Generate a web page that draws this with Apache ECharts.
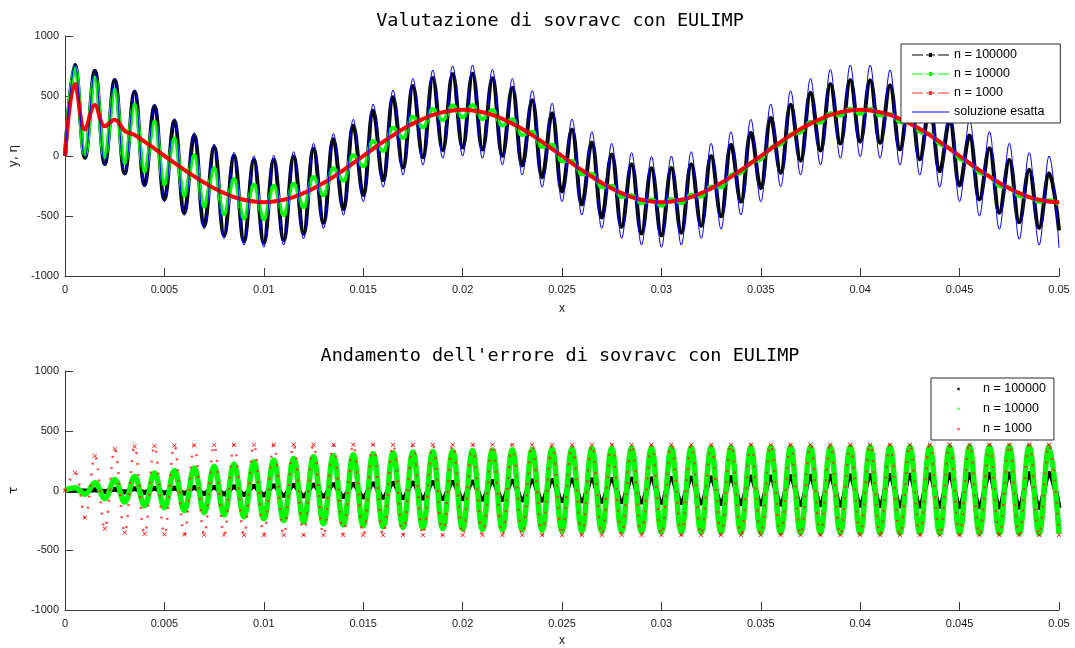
<!DOCTYPE html>
<html>
<head>
<meta charset="utf-8">
<script src="https://cdn.jsdelivr.net/npm/echarts@6/dist/echarts.min.js"></script>
<style>
  html, body { margin: 0; padding: 0; background: #fff; }
  #chart { width: 1075px; height: 648px; }
</style>
</head>
<body>
<div id="chart"></div>
<script>
// Sample abscissae: every half millisecond (crests and troughs of the fast oscillation)
const xs = [0,0.0005,0.001,0.0015,0.002,0.0025,0.003,0.0035,0.004,0.0045,0.005,0.0055,0.006,0.0065,0.007,0.0075,0.008,0.0085,0.009,0.0095,
  0.01,0.0105,0.011,0.0115,0.012,0.0125,0.013,0.0135,0.014,0.0145,0.015,0.0155,0.016,0.0165,0.017,0.0175,0.018,0.0185,0.019,0.0195,
  0.02,0.0205,0.021,0.0215,0.022,0.0225,0.023,0.0235,0.024,0.0245,0.025,0.0255,0.026,0.0265,0.027,0.0275,0.028,0.0285,0.029,0.0295,
  0.03,0.0305,0.031,0.0315,0.032,0.0325,0.033,0.0335,0.034,0.0345,0.035,0.0355,0.036,0.0365,0.037,0.0375,0.038,0.0385,0.039,0.0395,
  0.04,0.0405,0.041,0.0415,0.042,0.0425,0.043,0.0435,0.044,0.0445,0.045,0.0455,0.046,0.0465,0.047,0.0475,0.048,0.0485,0.049,0.0495,0.05];

// Exact solution
const esatta = [0,760,-19,717,-75,644,-158,550,-258,433,-381,312,-496,196,-607,100,-690,31,-742,2,
  -761,6,-742,36,-690,106,-605,189,-494,306,-381,433,-260,550,-158,647,-75,717,-19,752,
  0,758,-19,722,-75,647,-158,546,-260,440,-381,308,-492,203,-603,106,-686,28,-742,-4,
  -761,0,-742,36,-688,106,-611,203,-492,306,-381,433,-256,544,-158,647,-75,722,-19,758,
  -6,758,-19,717,-75,647,-158,550,-261,433,-381,306,-500,203,-611,106,-694,28,-742,0,-765];

// Implicit Euler, n = 100000
const y100000 = [0,758,-15,711,-67,634,-146,536,-242,415,-361,291,-473,171,-580,72,-660,-1,-708,-34,
  -723,-34,-701,-7,-645,60,-557,139,-443,253,-326,377,-202,490,-97,584,-11,651,48,683,
  70,686,54,647,1,569,-79,465,-178,356,-296,221,-404,113,-512,13,-592,-68,-645,-103,
  -661,-101,-639,-68,-583,-1,-503,94,-382,194,-268,319,-141,427,-40,528,45,600,104,634,
  119,632,108,589,54,517,-27,418,-128,299,-246,170,-363,65,-472,-34,-553,-114,-599,-144,-620];

// Implicit Euler, n = 10000
const y10000 = [0,738,12,653,-8,553,-61,432,-130,287,-237,145,-329,7,-421,-103,-484,-191,-520,-238,
  -526,-247,-492,-232,-426,-176,-327,-103,-206,6,-85,125,43,235,151,327,239,391,299,422,
  322,424,307,384,254,306,174,202,75,93,-43,-41,-152,-148,-261,-247,-342,-327,-396,-360,
  -414,-358,-394,-323,-338,-254,-260,-158,-140,-56,-28,70,98,180,197,283,280,357,337,393,
  351,392,338,351,283,280,200,183,98,66,-22,-62,-140,-165,-251,-262,-334,-341,-381,-369,-404];

// Implicit Euler, n = 1000
const y1000 = [0,600,220,425,248,303,210,175,120,62,2,-58,-115,-170,-222,-268,-308,-342,-365,-380,
  -385,-380,-365,-342,-310,-270,-225,-174,-118,-60,0,60,118,172,225,270,308,342,365,380,
  385,380,365,342,310,270,225,174,118,60,0,-60,-118,-172,-225,-270,-310,-342,-365,-380,
  -385,-380,-365,-342,-310,-270,-225,-174,-118,-60,0,60,118,172,225,270,308,342,365,380,
  385,380,365,342,310,270,225,174,118,60,0,-60,-118,-172,-225,-270,-310,-342,-365,-380,-385];

// Errors (exact - approximate)
const err100000 = [0,2,-4,6,-8,10,-12,14,-16,18,-20,21,-23,25,-27,28,-30,32,-34,36,
  -38,40,-41,43,-45,46,-48,50,-51,53,-55,56,-58,60,-61,63,-64,66,-67,69,
  -70,72,-73,75,-76,78,-79,81,-82,84,-85,87,-88,90,-91,93,-94,96,-97,99,
  -100,101,-103,104,-105,107,-108,109,-110,112,-113,114,-115,117,-118,119,-120,122,-123,124,
  -125,126,-127,128,-129,130,-131,132,-133,134,-135,136,-137,138,-139,140,-141,142,-143,144,-145];

const err10000 = [0,22,-31,64,-67,91,-97,118,-128,146,-144,167,-167,189,-186,203,-206,222,-222,240,
  -235,253,-250,268,-264,282,-278,292,-288,300,-296,308,-303,315,-309,320,-314,326,-318,330,
  -322,334,-326,338,-329,341,-332,344,-335,347,-338,349,-340,351,-342,353,-344,355,-346,356,
  -347,358,-348,359,-350,360,-351,361,-352,362,-353,363,-354,364,-355,364,-355,365,-356,365,
  -357,366,-357,366,-358,367,-358,367,-359,367,-359,368,-360,368,-360,368,-360,369,-361,369,-361];

const err1000 = [0,150,-225,288,-318,348,-352,368,-362,372,-366,376,-368,378,-370,380,-371,381,-372,382,
  -372,383,-372,383,-372,383,-372,383,-372,383,-372,383,-372,383,-372,383,-372,383,-372,383,
  -372,383,-372,383,-372,383,-372,383,-372,383,-372,383,-372,383,-372,383,-372,383,-372,383,
  -372,383,-372,383,-372,383,-372,383,-372,383,-372,383,-372,383,-372,383,-372,383,-372,383,
  -372,383,-372,383,-372,383,-372,383,-372,383,-372,383,-372,383,-372,383,-372,383,-372,383,-372];

const yTicks = { min: -1000, max: 1000, interval: 500 };
const xTicks = { min: 0, max: 0.05, interval: 0.005 };

const pts = ys => xs.map((x, i) => [x, ys[i]]);

const tickFont = { fontFamily: 'Liberation Sans, Arial, sans-serif', fontSize: 11, color: '#1a1a1a' };
const axisCol = '#3a3a3a';

// Legend glyphs (corner specks fix the bounding box so nothing is stretched)
const corners = (w, h) => `M0,0L0.01,0L0,0.01Z M${w},${h}L${w - 0.01},${h}L${w},${h - 0.01}Z`;
const dashStarIcon = 'path://M0,6.5H11V7.5H0Z M14,6.5H23V7.5H14Z M17,5H20V9H17Z M26,6.5H37V7.5H26Z ' + corners(37, 14);
const solidIcon = 'path://M0,6.5H37V7.5H0Z ' + corners(37, 14);
const crossIcon = 'path://M18,5.5L18.7,5L19.5,5.8L20.3,5L21,5.5L20.2,6.5L21,7.5L20.3,8L19.5,7.2L18.7,8L18,7.5L18.8,6.5Z ' + corners(39, 13);
const xMark = 'path://M0,1L1,0L5,4L9,0L10,1L6,5L10,9L9,10L5,6L1,10L0,9L4,5Z';

function valueX(idx) {
  return {
    type: 'value', gridIndex: idx, min: xTicks.min, max: xTicks.max, interval: xTicks.interval,
    name: 'x', nameLocation: 'middle', nameGap: idx === 0 ? 27 : 25,
    nameTextStyle: { fontFamily: 'Liberation Sans, Arial, sans-serif', fontSize: 12, color: '#1a1a1a' },
    axisLine: { show: true, onZero: false, lineStyle: { color: axisCol, width: 1 } },
    axisTick: { show: true, inside: true, length: 8, lineStyle: { color: axisCol } },
    axisLabel: Object.assign({ margin: 8, formatter: v => String(+v.toFixed(3)) }, tickFont),
    splitLine: { show: false }
  };
}
function valueY(idx, label) {
  return {
    type: 'value', gridIndex: idx, min: yTicks.min, max: yTicks.max, interval: yTicks.interval,
    name: label, nameLocation: 'middle', nameGap: 45, nameRotate: 90,
    nameTextStyle: { fontFamily: 'DejaVu Sans, Liberation Sans, sans-serif', fontSize: 12, color: '#1a1a1a' },
    axisLine: { show: true, onZero: false, lineStyle: { color: axisCol, width: 1 } },
    axisTick: { show: true, inside: true, length: 8, lineStyle: { color: axisCol } },
    axisLabel: Object.assign({ margin: 6, formatter: v => String(v) }, tickFont),
    splitLine: { show: false }
  };
}
function curve(name, ys, idx, color, width, extra) {
  return Object.assign({
    name, type: 'line', xAxisIndex: idx, yAxisIndex: idx, data: pts(ys),
    smooth: 0.4, symbol: 'none', lineStyle: { color, width }, itemStyle: { color },
    emphasis: { disabled: true }, silent: true
  }, extra || {});
}

const legendText = { fontFamily: 'Liberation Sans, Arial, sans-serif', fontSize: 12.5, color: '#000', lineHeight: 14 };
const titleFont = { fontFamily: 'DejaVu Sans Mono, monospace', fontSize: 18.5, fontWeight: 'normal', color: '#000' };

const option = {
  animation: false,
  backgroundColor: '#fff',
  title: [
    { text: 'Valutazione di sovravc con EULIMP', left: 555, textAlign: 'center', top: 7, textStyle: titleFont },
    { text: "Andamento dell'errore di sovravc con EULIMP", left: 555, textAlign: 'center', top: 342, textStyle: titleFont }
  ],
  grid: [
    { left: 63, top: 36, width: 996, height: 240 },
    { left: 63, top: 371, width: 996, height: 241 }
  ],
  xAxis: [valueX(0), valueX(1)],
  yAxis: [valueY(0, 'y, η'), valueY(1, 'τ')],
  legend: [
    { orient: 'vertical', left: 901, top: 44, padding: [4, 16, 4, 11], itemWidth: 37, itemHeight: 14, itemGap: 5,
      backgroundColor: '#fff', borderColor: '#2b2b2b', borderWidth: 1, selectedMode: false,
      textStyle: legendText, itemStyle: { borderWidth: 0 },
      data: [
        { name: 'n = 100000', icon: dashStarIcon, itemStyle: { color: '#000', borderWidth: 0 } },
        { name: 'n = 10000', icon: dashStarIcon, itemStyle: { color: '#00ff00', borderWidth: 0 } },
        { name: 'n = 1000', icon: dashStarIcon, itemStyle: { color: '#ff3030', borderWidth: 0 } },
        { name: 'soluzione esatta', icon: solidIcon, itemStyle: { color: '#0000ff', borderWidth: 0 } }
      ] },
    { orient: 'vertical', left: 931, top: 378, padding: [4, 8, 4, 8], itemWidth: 39, itemHeight: 13, itemGap: 6,
      backgroundColor: '#fff', borderColor: '#2b2b2b', borderWidth: 1, selectedMode: false,
      textStyle: legendText, itemStyle: { borderWidth: 0 },
      data: [
        { name: 'n = 100000', icon: crossIcon, itemStyle: { color: '#000', borderWidth: 0 } },
        { name: 'n = 10000', icon: crossIcon, itemStyle: { color: '#40ff40', borderWidth: 0 } },
        { name: 'n = 1000', icon: crossIcon, itemStyle: { color: '#ff5050', borderWidth: 0 } }
      ] }
  ],
  series: [
    // Solutions
    curve('n = 100000', y100000, 0, '#000000', 4),
    curve('n = 10000', y10000, 0, '#00ff00', 4),
    curve('n = 1000', y1000, 0, '#ff0000', 4),
    curve('soluzione esatta', esatta, 0, '#0000ff', 1),
    // Errors
    curve('n = 100000', err100000, 1, '#000000', 5),
    curve('n = 10000', err10000, 1, '#00ff00', 5.5),
    curve('n = 1000', err1000, 1, '#ff2020', 2.5, {
      lineStyle: { color: 'rgba(255,40,40,0.85)', width: 2.5, type: [2, 9] },
      symbol: xMark, symbolSize: 4.5, showSymbol: true, showAllSymbol: true,
      itemStyle: { color: '#ff0000', borderWidth: 0 }
    })
  ]
};

echarts.init(document.getElementById('chart'), null, { renderer: 'canvas' }).setOption(option);
</script>
</body>
</html>
